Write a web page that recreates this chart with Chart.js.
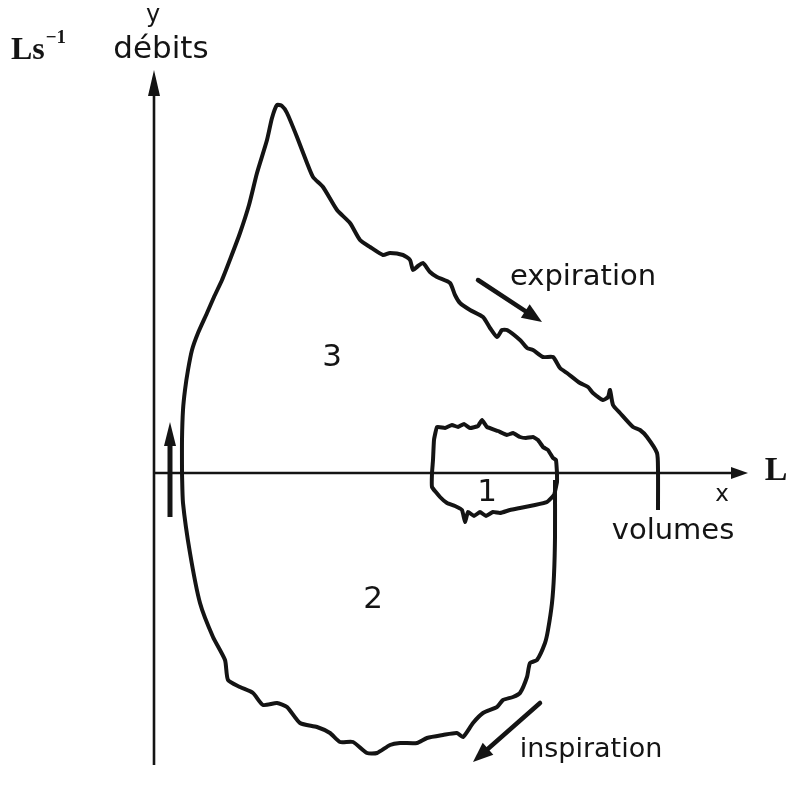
<!DOCTYPE html>
<html>
<head>
<meta charset="utf-8">
<script src="https://cdn.jsdelivr.net/npm/chart.js@4"></script>
<style>
  html, body { margin: 0; padding: 0; background: #fff; }
  #wrap { width: 791px; height: 794px; position: relative; }
</style>
</head>
<body>
<div id="wrap"><canvas id="loopChart"></canvas></div>
<script>
// volume (x) / flow (y) samples, arbitrary units, origin on the axes crossing
const expirationX = [0.28, 0.28, 0.29, 0.31, 0.34, 0.38, 0.44, 0.53, 0.60, 0.68, 0.77, 0.86, 0.95, 1.03, 1.13, 1.18, 1.23, 1.28, 1.33, 1.43, 1.53, 1.59, 1.69, 1.83, 1.96, 2.06, 2.16, 2.29, 2.36, 2.49, 2.56, 2.59, 2.64, 2.69, 2.76, 2.83, 2.96, 3.01, 3.06, 3.16, 3.29, 3.36, 3.43, 3.48, 3.53, 3.66, 3.73, 3.79, 3.89, 3.99, 4.06, 4.13, 4.26, 4.34, 4.39, 4.49, 4.54, 4.56, 4.59, 4.66, 4.79, 4.86, 4.93, 5.03, 5.04, 5.04];
const expirationY = [0.00, 0.33, 0.63, 0.83, 1.03, 1.23, 1.40, 1.60, 1.76, 1.93, 2.16, 2.40, 2.68, 3.00, 3.33, 3.55, 3.68, 3.67, 3.60, 3.36, 3.10, 2.96, 2.86, 2.63, 2.50, 2.33, 2.26, 2.18, 2.20, 2.18, 2.13, 2.03, 2.07, 2.10, 2.01, 1.96, 1.90, 1.78, 1.70, 1.63, 1.56, 1.45, 1.36, 1.43, 1.43, 1.33, 1.25, 1.23, 1.16, 1.16, 1.05, 1.00, 0.90, 0.86, 0.80, 0.73, 0.76, 0.83, 0.68, 0.60, 0.46, 0.43, 0.36, 0.20, 0.03, -0.37];

const inspirationX = [4.01, 4.01, 4.00, 3.98, 3.94, 3.91, 3.83, 3.76, 3.73, 3.66, 3.59, 3.49, 3.43, 3.29, 3.19, 3.09, 3.03, 2.89, 2.73, 2.63, 2.46, 2.36, 2.23, 2.13, 1.99, 1.86, 1.76, 1.63, 1.46, 1.33, 1.23, 1.09, 0.99, 0.86, 0.74, 0.71, 0.59, 0.46, 0.36, 0.29, 0.28];
const inspirationY = [-0.07, -0.64, -1.02, -1.30, -1.57, -1.70, -1.87, -1.90, -2.04, -2.20, -2.24, -2.27, -2.34, -2.40, -2.50, -2.64, -2.60, -2.62, -2.65, -2.70, -2.70, -2.72, -2.80, -2.80, -2.69, -2.69, -2.60, -2.54, -2.50, -2.34, -2.30, -2.32, -2.20, -2.14, -2.07, -1.87, -1.64, -1.30, -0.80, -0.30, 0.00];

const tidalX = [4.03, 4.02, 3.99, 3.94, 3.89, 3.84, 3.79, 3.72, 3.66, 3.59, 3.53, 3.44, 3.33, 3.28, 3.24, 3.16, 3.10, 3.04, 2.98, 2.91, 2.83, 2.80, 2.79, 2.78, 2.78, 2.86, 2.93, 3.01, 3.08, 3.11, 3.14, 3.20, 3.26, 3.32, 3.39, 3.46, 3.56, 3.66, 3.81, 3.93, 4.00, 4.03, 4.03];
const tidalY = [0.00, 0.13, 0.15, 0.23, 0.26, 0.33, 0.36, 0.35, 0.36, 0.40, 0.38, 0.42, 0.46, 0.53, 0.47, 0.45, 0.49, 0.46, 0.48, 0.45, 0.46, 0.33, 0.13, 0.00, -0.14, -0.24, -0.30, -0.33, -0.37, -0.49, -0.39, -0.43, -0.39, -0.43, -0.39, -0.40, -0.37, -0.35, -0.32, -0.29, -0.22, -0.09, 0.00];

// zone numbers
const zoneLabels = ["1", "2", "3"];
const zoneX = [3.33, 2.19, 1.78];
const zoneY = [-0.20, -1.27, 1.15];

const toPoints = (xs, ys) => xs.map((x, i) => ({ x, y: ys[i] }));

const ink = "#141414";

function arrowHead(ctx, x0, y0, x1, y1, len, half) {
  const a = Math.atan2(y1 - y0, x1 - x0);
  ctx.beginPath();
  ctx.moveTo(x1, y1);
  ctx.lineTo(x1 - len * Math.cos(a) + half * Math.sin(a), y1 - len * Math.sin(a) - half * Math.cos(a));
  ctx.lineTo(x1 - len * Math.cos(a) - half * Math.sin(a), y1 - len * Math.sin(a) + half * Math.cos(a));
  ctx.closePath();
  ctx.fill();
}

function arrow(ctx, x0, y0, x1, y1, width, len, half) {
  const a = Math.atan2(y1 - y0, x1 - x0);
  ctx.lineWidth = width;
  ctx.beginPath();
  ctx.moveTo(x0, y0);
  ctx.lineTo(x1 - len * 0.7 * Math.cos(a), y1 - len * 0.7 * Math.sin(a));
  ctx.stroke();
  arrowHead(ctx, x0, y0, x1, y1, len, half);
}

// axes, arrows and captions
const diagramPlugin = {
  id: "diagram",
  beforeDatasetsDraw(chart) {
    const { ctx } = chart;
    const sx = chart.scales.x, sy = chart.scales.y;
    const px = (v) => sx.getPixelForValue(v);
    const py = (v) => sy.getPixelForValue(v);
    ctx.save();
    ctx.strokeStyle = ink;
    ctx.fillStyle = ink;
    ctx.lineCap = "butt";
    // flow axis
    arrow(ctx, px(0), py(-2.92), px(0), py(4.03), 2.6, 26, 6);
    // volume axis
    arrow(ctx, px(0), py(0), px(5.94), py(0), 2.3, 17, 6);
    ctx.restore();
  },
  afterDatasetsDraw(chart) {
    const { ctx } = chart;
    const sx = chart.scales.x, sy = chart.scales.y;
    const px = (v) => sx.getPixelForValue(v);
    const py = (v) => sy.getPixelForValue(v);
    ctx.save();
    ctx.strokeStyle = ink;
    ctx.fillStyle = ink;
    ctx.lineCap = "round";

    arrow(ctx, px(3.24), py(1.93), px(3.88), py(1.51), 4.5, 20, 8);
    arrow(ctx, px(3.86), py(-2.30), px(3.19), py(-2.89), 4.5, 20, 8);
    ctx.lineCap = "butt";
    arrow(ctx, px(0.16), py(-0.44), px(0.16), py(0.51), 5, 24, 6);

    ctx.textAlign = "center";
    ctx.textBaseline = "middle";
    ctx.font = "31px 'DejaVu Sans'";
    zoneLabels.forEach((t, i) => ctx.fillText(t, px(zoneX[i]), py(zoneY[i])));

    ctx.font = "24px 'DejaVu Sans'";
    ctx.fillText("y", px(-0.01), py(4.57));
    ctx.font = "31px 'DejaVu Sans'";
    ctx.fillText("débits", px(0.07), py(4.23));
    ctx.font = "23px 'DejaVu Sans'";
    ctx.fillText("x", px(5.68), py(-0.22));
    ctx.font = "29px 'DejaVu Sans'";
    ctx.fillText("volumes", px(5.19), py(-0.58));
    ctx.font = "29px 'DejaVu Sans'";
    ctx.fillText("expiration", px(4.29), py(1.96));
    ctx.font = "27px 'DejaVu Sans'";
    ctx.fillText("inspiration", px(4.37), py(-2.77));

    ctx.font = "bold 34px 'Liberation Serif'";
    ctx.fillText("L", px(6.22), py(0.02));
    ctx.textAlign = "left";
    ctx.font = "bold 32px 'Liberation Serif'";
    ctx.fillText("Ls", px(-1.43), py(4.22));
    const w = ctx.measureText("Ls").width;
    ctx.font = "bold 19px 'Liberation Serif'";
    ctx.fillText("\u22121", px(-1.43) + w + 1, py(4.35));
    ctx.restore();
  },
};

const lineStyle = {
  showLine: true,
  borderColor: ink,
  borderWidth: 4,
  pointRadius: 0,
  tension: 0.2,
  fill: false,
};

new Chart(document.getElementById("loopChart"), {
  type: "scatter",
  data: {
    datasets: [
      { label: "expiration", data: toPoints(expirationX, expirationY), ...lineStyle },
      { label: "inspiration", data: toPoints(inspirationX, inspirationY), ...lineStyle },
      { label: "1", data: toPoints(tidalX, tidalY), ...lineStyle, tension: 0.1 },
    ],
  },
  options: {
    responsive: true,
    maintainAspectRatio: false,
    animation: false,
    layout: { padding: 0 },
    plugins: {
      legend: { display: false },
      tooltip: { enabled: false },
    },
    scales: {
      x: { type: "linear", min: -1.54, max: 6.37, display: false },
      y: { type: "linear", min: -3.21, max: 4.73, display: false },
    },
  },
  plugins: [diagramPlugin],
});
</script>
</body>
</html>
